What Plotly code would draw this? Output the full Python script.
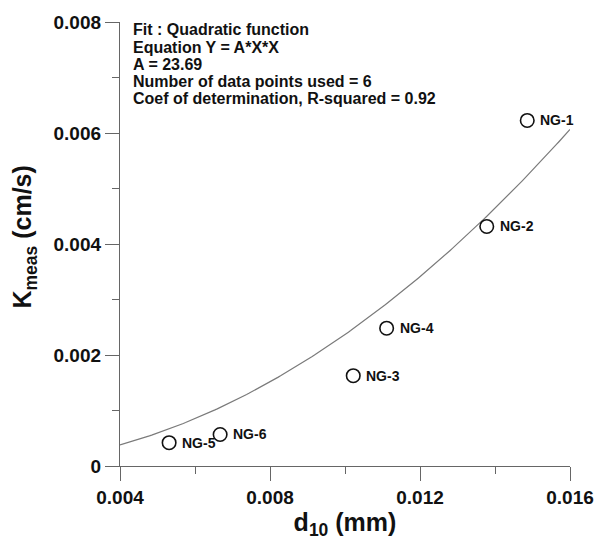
import numpy as np
import plotly.graph_objects as go

# data
labels = ["NG-1", "NG-2", "NG-3", "NG-4", "NG-5", "NG-6"]
d10 = [0.01486, 0.01378, 0.01022, 0.01111, 0.00531, 0.00667]
kmeas = [0.006226, 0.004316, 0.001627, 0.002483, 0.000420, 0.000568]
coef_A = 23.69
x_ticks = [0.004, 0.008, 0.012, 0.016]
y_ticks = [0, 0.002, 0.004, 0.006, 0.008]
fit_text = ["Fit : Quadratic function", "Equation Y = A*X*X", "A = 23.69",
            "Number of data points used = 6", "Coef of determination, R-squared = 0.92"]
x_title = "<b>d<sub>10</sub> (mm)</b>"
y_title = "<b>K<sub>meas</sub> (cm/s)</b>"

FONT = "Liberation Sans, Arial, sans-serif"

xf = np.linspace(0.004, 0.016, 200)
yf = coef_A * xf ** 2

fig = go.Figure()
fig.add_trace(go.Scatter(x=xf, y=yf, mode="lines",
                         line=dict(color="#7a7a7a", width=1.2),
                         hoverinfo="skip", showlegend=False))
fig.add_trace(go.Scatter(x=d10, y=kmeas, mode="markers",
                         marker=dict(symbol="circle-open", size=13.5,
                                     line=dict(color="#111", width=1.6), color="#111"),
                         showlegend=False))

for lab, xv, yv in zip(labels, d10, kmeas):
    fig.add_annotation(x=xv, y=yv, text="<b>%s</b>" % lab, showarrow=False,
                       xanchor="left", yanchor="middle", xshift=11,
                       font=dict(family=FONT, size=14, color="#111"))

# fit summary, one annotation per line (tight line spacing)
plot_top, plot_bot = 15.0, 466.0
plot_h = plot_bot - plot_top
for i, line in enumerate(fit_text):
    yc = 23.0 + 17.5 * i
    fig.add_annotation(xref="paper", yref="paper", x=0.026,
                       y=(plot_bot - yc) / plot_h,
                       xanchor="left", yanchor="middle", align="left", showarrow=False,
                       borderpad=0,
                       text="<b>%s</b>" % line,
                       font=dict(family=FONT, size=16, color="#111"))

# y axis title as rotated annotation
fig.add_annotation(xref="paper", yref="paper", x=(24 - 120) / 450.0,
                   y=(plot_bot - 234) / plot_h, xanchor="center", yanchor="middle",
                   textangle=-90, showarrow=False, text=y_title,
                   font=dict(family=FONT, size=25, color="#111"))

axis_common = dict(showline=True, linecolor="#666", linewidth=1.3,
                   ticks="outside", ticklen=14, tickwidth=1.3, tickcolor="#666",
                   showgrid=False, zeroline=False,
                   tickfont=dict(family=FONT, size=19, color="#111"))

fig.update_xaxes(range=[0.004, 0.016], tickvals=x_ticks,
                 ticktext=["<b>%g</b>" % v for v in x_ticks],
                 minor=dict(dtick=0.002, ticklen=7, ticks="outside", tickcolor="#666", tickwidth=1.3),
                 title=dict(text=x_title, standoff=4,
                            font=dict(family=FONT, size=25, color="#111")),
                 **axis_common)
fig.update_yaxes(range=[0, 0.008], tickvals=y_ticks,
                 ticktext=["<b>%g</b>" % v for v in y_ticks],
                 minor=dict(dtick=0.001, ticklen=7, ticks="outside", tickcolor="#666", tickwidth=1.3),
                 **axis_common)

fig.update_layout(width=610, height=544, margin=dict(l=120, r=40, t=15, b=78),
                  plot_bgcolor="white", paper_bgcolor="white")
fig.write_html("out.html")
